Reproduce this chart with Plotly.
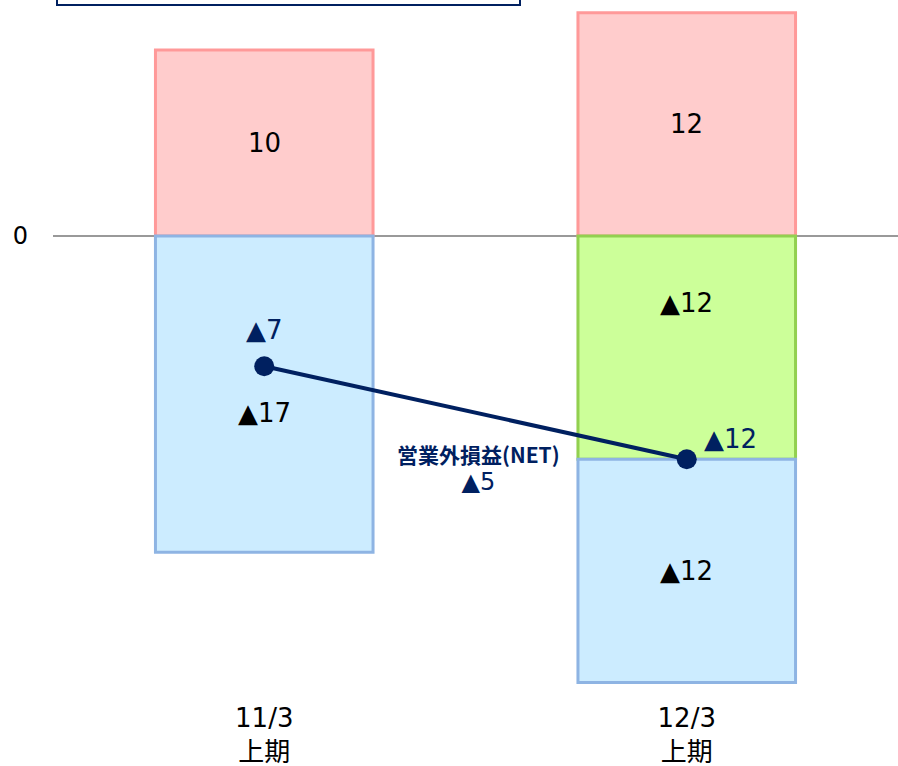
import plotly.graph_objects as go

categories = ["11/3<br>上期", "12/3<br>上期"]
pink_vals = [10, 12]
green_vals = [None, -12]
blue_vals = [-17, -12]
net_vals = [-7, -12]

pink_labels = ["10", "12"]
green_labels = [None, "▲12"]
blue_labels = ["▲17", "▲12"]
net_labels = ["▲7", "▲12"]

FONT = "DejaVu Sans, Noto Sans CJK JP, sans-serif"
CJK = "Noto Sans CJK JP, sans-serif"
NAVY = "#002060"

fig = go.Figure()
fig.add_trace(go.Bar(x=categories, y=pink_vals, width=0.515,
                     marker=dict(color="#FFCCCC", line=dict(color="#FF9999", width=3)),
                     hoverinfo="skip"))
fig.add_trace(go.Bar(x=categories, y=green_vals, width=0.515,
                     marker=dict(color="#CCFF99", line=dict(color="#92D050", width=3)),
                     hoverinfo="skip"))
fig.add_trace(go.Bar(x=categories, y=blue_vals, width=0.515,
                     marker=dict(color="#CCECFF", line=dict(color="#8EB4E3", width=3)),
                     hoverinfo="skip"))
fig.add_trace(go.Scatter(x=categories, y=net_vals, mode="lines+markers",
                         line=dict(color=NAVY, width=4),
                         marker=dict(color=NAVY, size=20),
                         hoverinfo="skip"))

ann = []
ann.append(dict(x=categories[0], y=pink_vals[0] / 2, text=pink_labels[0]))
ann.append(dict(x=categories[1], y=pink_vals[1] / 2, text=pink_labels[1]))
ann.append(dict(x=categories[0], y=blue_vals[0] * 0.56, text=blue_labels[0]))
ann.append(dict(x=categories[1], y=green_vals[1] * 0.3, text=green_labels[1]))
ann.append(dict(x=categories[1], y=green_vals[1] + blue_vals[1] * 0.5, text=blue_labels[1]))
for a in ann:
    a.update(showarrow=False, font=dict(family=FONT, size=26, color="#000000"))
ann.append(dict(x=categories[0], y=net_vals[0], text=net_labels[0], yshift=36,
                showarrow=False, font=dict(family=FONT, size=26, color=NAVY)))
ann.append(dict(x=categories[1], y=net_vals[1], text=net_labels[1], yshift=20, xshift=44,
                showarrow=False, font=dict(family=FONT, size=26, color=NAVY)))
ann.append(dict(x=0.5, y=net_vals[1], xshift=3, yshift=-8,
                text="<b>営業外損益(NET)</b><br><span style='font-family:DejaVu Sans;font-size:24px'>▲5</span>",
                showarrow=False, font=dict(family=CJK, size=21, color=NAVY)))

fig.update_layout(
    width=898, height=766,
    margin=dict(l=53, r=0, t=0, b=66),
    paper_bgcolor="white", plot_bgcolor="white",
    barmode="relative", showlegend=False,
    annotations=ann,
    xaxis=dict(range=[-0.5, 1.5], showgrid=False, showline=False, ticks="",
               tickfont=dict(family=FONT, size=26, color="#000000"),
               ticklabelstandoff=0),
    yaxis=dict(range=[-464 / 18.6, 236 / 18.6], showgrid=False, showline=False,
               tickvals=[0], ticktext=["0"], ticks="",
               tickfont=dict(family=FONT, size=24, color="#000000"),
               ticklabelstandoff=24,
               zeroline=True, zerolinecolor="#999999", zerolinewidth=2,
               layer="above traces"),
    shapes=[dict(type="rect", xref="paper", yref="paper",
                 x0=4 / 845, x1=467 / 845, y0=1 - 5 / 700, y1=1.1,
                 line=dict(color=NAVY, width=2), fillcolor="white")],
)

fig.write_html("out.html", config={"displayModeBar": False},
               post_script="document.body.style.margin='0';document.body.style.overflow='hidden';")
